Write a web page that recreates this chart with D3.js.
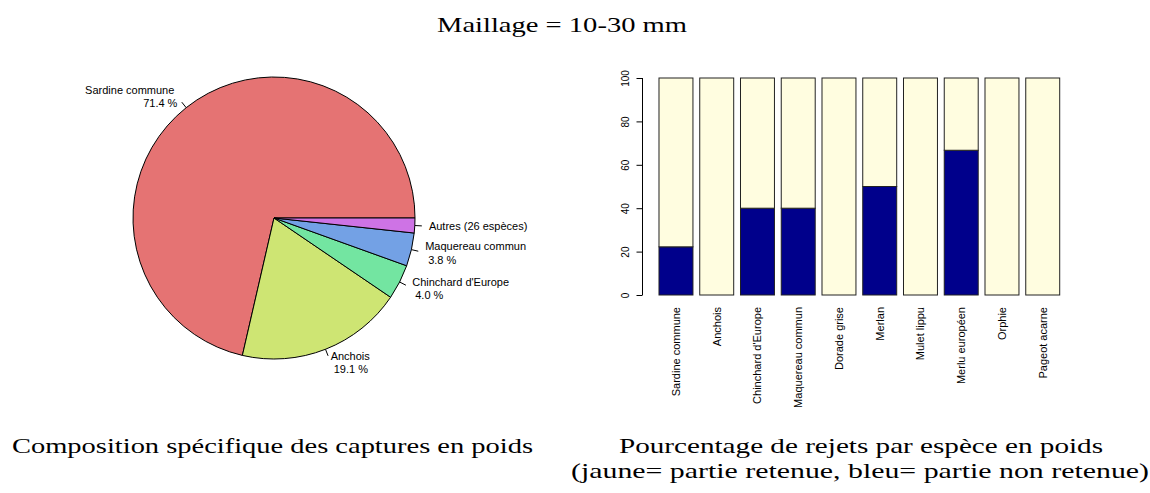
<!DOCTYPE html>
<html>
<head>
<meta charset="utf-8">
<script src="https://cdn.jsdelivr.net/npm/d3@7"></script>
<style>
  html, body { margin: 0; padding: 0; background: #ffffff; }
  svg { display: block; }
  .lab { font-family: "Liberation Sans", Arial, sans-serif; font-size: 11px; fill: #000; white-space: pre; }
  .ttl { font-family: "Liberation Serif", "Times New Roman", serif; fill: #000; }
</style>
</head>
<body>
<svg id="chart" width="1150" height="493"></svg>
<script>
// ---------- data ----------
const pieNames = ["Sardine commune", "Anchois", "Chinchard d'Europe", "Maquereau commun", "Autres (26 espèces)"];
const pieValues = [71.4, 19.1, 4.0, 3.8, 1.7];
const pieColors = ["#E57373", "#CEE573", "#73E5A1", "#73A1E5", "#CE73E5"];

const barNames = ["Sardine commune", "Anchois", "Chinchard d'Europe", "Maquereau commun", "Dorade grise",
                  "Merlan", "Mulet lippu", "Merlu européen", "Orphie", "Pageot acarne"];
const rejected = [22.2, 0, 40, 40, 0, 50, 0, 66.7, 0, 0];   // bleu = partie non retenue
const retained = rejected.map(v => 100 - v);               // jaune = partie retenue
const yTicks = [0, 20, 40, 60, 80, 100];

const mainTitle = "Maillage = 10-30 mm";
const pieTitle = "Composition spécifique des captures en poids";
const barTitle1 = "Pourcentage de rejets par espèce en poids";
const barTitle2 = "(jaune= partie retenue, bleu= partie non retenue)";

const svg = d3.select("#chart");

// ---------- titles ----------
function title(txt, xc, yb, len) {
  svg.append("text").attr("class", "ttl").attr("x", xc).attr("y", yb)
    .attr("text-anchor", "middle").style("font-size", "22px")
    .attr("textLength", len).attr("lengthAdjust", "spacingAndGlyphs").text(txt);
}
title(mainTitle, 562, 32, 250);
title(pieTitle, 272.5, 453, 521);
title(barTitle1, 861, 453, 484);
title(barTitle2, 860, 478, 578);

// ---------- pie ----------
const cx = 274, cy = 218, R = 141;
const total = d3.sum(pieValues);
// R-style pie: starts at 3 o'clock, counter-clockwise
const angScale = d3.scaleLinear().domain([0, total]).range([0, 2 * Math.PI]);
let cum = 0;
const slices = pieValues.map((v, i) => {
  const s = { name: pieNames[i], value: v, color: pieColors[i], a0: angScale(cum), a1: angScale(cum + v) };
  cum += v;
  return s;
});
// convert math angle (ccw from east) to d3 arc angle (cw from north)
const toD3 = a => Math.PI / 2 - a;
const arc = d3.arc().innerRadius(0).outerRadius(R);
const pg = svg.append("g").attr("transform", `translate(${cx},${cy})`);
pg.selectAll("path.slice").data(slices).join("path")
  .attr("class", "slice")
  .attr("d", d => arc({ startAngle: toD3(d.a1), endAngle: toD3(d.a0) }))
  .attr("fill", d => d.color)
  .attr("stroke", "#000").attr("stroke-width", 1);

slices.forEach(d => {
  const m = (d.a0 + d.a1) / 2;
  const c = Math.cos(m), s = -Math.sin(m);
  pg.append("line")
    .attr("x1", c * R).attr("y1", s * R)
    .attr("x2", c * R * 1.05).attr("y2", s * R * 1.05)
    .attr("stroke", "#000").attr("stroke-width", 1);
  const lx = c * R * 1.1, ly = s * R * 1.1;
  const right = c > 0;
  const isOther = d.name.startsWith("Autres");
  const lines = isOther ? [d.name] : [d.name + " ", " " + d.value.toFixed(1) + " %"];
  const lh = 13.5;
  const t = pg.append("text").attr("class", "lab")
    .attr("text-anchor", right ? "start" : "end");
  lines.forEach((ln, k) => {
    t.append("tspan").attr("x", lx)
      .attr("y", ly + (k - (lines.length - 1) / 2) * lh + 4)
      .text(ln);
  });
});

// ---------- stacked bar chart ----------
const x0 = 652.2, x1 = 1066.5, yBot = 295, yTop = 78;
// R barplot layout: space 0.2 before each bar, width 1
const xs = d3.scaleLinear().domain([0, barNames.length * 1.2 + 0.2]).range([x0, x1]);
const y = d3.scaleLinear().domain([0, 100]).range([yBot, yTop]);

const bg = svg.append("g");
barNames.forEach((n, i) => {
  const left = xs(0.2 + i * 1.2), w = xs(1.2 + i * 1.2) - left;
  if (rejected[i] > 0) {
    bg.append("rect").attr("x", left).attr("y", y(rejected[i]))
      .attr("width", w).attr("height", y(0) - y(rejected[i]))
      .attr("fill", "#00008B").attr("stroke", "#222").attr("stroke-width", 1);
  }
  bg.append("rect").attr("x", left).attr("y", y(100))
    .attr("width", w).attr("height", y(rejected[i]) - y(100))
    .attr("fill", "#FFFDE0").attr("stroke", "#222").attr("stroke-width", 1);
  bg.append("text").attr("class", "lab")
    .attr("transform", `translate(${left + w / 2 + 4},${yBot + 12}) rotate(-90)`)
    .attr("text-anchor", "end").text(n);
});

// y axis
const yAxis = d3.axisLeft(y).tickValues(yTicks).tickSize(6).tickPadding(4).tickFormat(d3.format("d"));
const ag = svg.append("g").attr("transform", `translate(642.5,0)`).call(yAxis);
ag.selectAll(".domain").attr("d", `M0,${y(0)}V${y(100)}`).attr("stroke", "#000");
ag.selectAll(".tick line").attr("stroke", "#000");
ag.selectAll(".tick text")
  .attr("class", "lab").style("font-size", "10px")
  .attr("x", null).attr("dy", "0")
  .attr("text-anchor", "middle")
  .attr("transform", "translate(-14,0) rotate(-90)");
</script>
</body>
</html>
